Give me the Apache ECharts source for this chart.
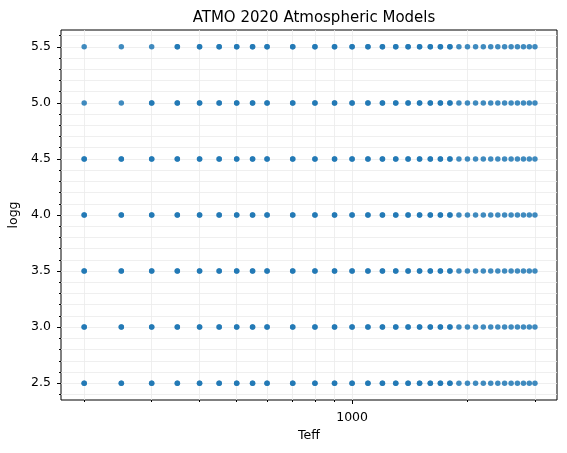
<!DOCTYPE html>
<html>
<head>
<meta charset="utf-8">
<script src="https://cdn.jsdelivr.net/npm/echarts@6/dist/echarts.min.js"></script>
<style>
  html, body { margin: 0; padding: 0; background: #fff; }
  #chart { width: 567px; height: 453px; }
</style>
</head>
<body>
<div id="chart"></div>
<script>
// model grid (ATMO 2020): every Teff at every logg
const teffGrid = [200, 250, 300, 350, 400, 450, 500, 550, 600, 700, 800, 900,
  1000, 1100, 1200, 1300, 1400, 1500, 1600, 1700, 1800, 1900, 2000, 2100,
  2200, 2300, 2400, 2500, 2600, 2700, 2800, 2900, 3000]
const loggGrid = [2.5, 3.0, 3.5, 4.0, 4.5, 5.0, 5.5]

// points covered by the second (non-equilibrium) model set, drawn on top
const teffNeq = [200, 250, 300, 350, 400, 450, 500, 550, 600, 700, 800, 900,
  1000, 1100, 1200, 1300, 1400, 1500, 1600, 1700, 1800]
const neqMissing = [[200, 5.0], [250, 5.0], [200, 5.5], [250, 5.5], [300, 5.5]]

// axis ticks
const xMajorTicks = [1000]
const xMinorTicks = [200, 300, 400, 500, 600, 700, 800, 900, 1000, 2000, 3000]
const yMajorTicks = [2.5, 3.0, 3.5, 4.0, 4.5, 5.0, 5.5]
const yMinorTicks = [2.4, 2.5, 2.6, 2.7, 2.8, 2.9, 3.0, 3.1, 3.2, 3.3, 3.4, 3.5,
  3.6, 3.7, 3.8, 3.9, 4.0, 4.1, 4.2, 4.3, 4.4, 4.5, 4.6, 4.7, 4.8, 4.9, 5.0,
  5.1, 5.2, 5.3, 5.4, 5.5, 5.6]

const xMin = 174
const xMax = 3425
const yMin = 2.35
const yMax = 5.65

const gridPoints = []
loggGrid.forEach((g) => {
  teffGrid.forEach((t) => gridPoints.push([t, g]))
})

const neqPoints = []
loggGrid.forEach((g) => {
  teffNeq.forEach((t) => {
    const skip = neqMissing.some((m) => m[0] === t && m[1] === g)
    if (!skip) neqPoints.push([t, g])
  })
})

const font = 'DejaVu Sans'
const blue = '#1f77b4'

const xBase = {
  type: 'log',
  logBase: 10,
  min: xMin,
  max: xMax,
  axisLine: { show: false },
}
const yBase = {
  type: 'value',
  min: yMin,
  max: yMax,
  axisLine: { show: false },
}

const option = {
  animation: false,
  backgroundColor: '#fff',
  title: {
    text: 'ATMO 2020 Atmospheric Models',
    left: 309,
    textAlign: 'center',
    top: 6,
    textStyle: { fontFamily: font, fontSize: 15, fontWeight: 'normal', color: '#000' },
  },
  grid: {
    left: 61,
    right: 10,
    top: 30,
    bottom: 53,
    outerBoundsMode: 'none',
    containLabel: false,
    show: true,
    borderColor: '#000',
    borderWidth: 1,
    backgroundColor: 'transparent',
  },
  xAxis: [
    {
      ...xBase,
      name: 'Teff',
      nameLocation: 'middle',
      nameGap: 29,
      nameTextStyle: { fontFamily: font, fontSize: 12.5, color: '#000' },
      axisTick: { show: true, length: 4, customValues: xMajorTicks, lineStyle: { color: '#000' } },
      axisLabel: {
        show: true,
        customValues: xMajorTicks,
        margin: 11,
        fontFamily: font,
        fontSize: 12.5,
        color: '#000',
        formatter: (v) => String(Math.round(v)),
      },
      splitLine: { show: false },
    },
    {
      ...xBase,
      position: 'bottom',
      axisTick: { show: true, length: 2, customValues: xMinorTicks, lineStyle: { color: '#000' } },
      axisLabel: { show: false },
      splitLine: { show: true, lineStyle: { color: '#ebebeb', width: 0.8 } },
    },
  ],
  yAxis: [
    {
      ...yBase,
      name: 'logg',
      nameLocation: 'middle',
      nameGap: 38,
      nameTextStyle: { fontFamily: font, fontSize: 12.5, color: '#000' },
      axisTick: { show: true, length: 4, customValues: yMajorTicks, lineStyle: { color: '#000' } },
      axisLabel: {
        show: true,
        customValues: yMajorTicks,
        margin: 10,
        fontFamily: font,
        fontSize: 12.5,
        color: '#000',
        formatter: (v) => v.toFixed(1),
      },
      splitLine: { show: false },
    },
    {
      ...yBase,
      position: 'left',
      axisTick: { show: true, length: 2, customValues: yMinorTicks, lineStyle: { color: '#000' } },
      axisLabel: { show: false },
      splitLine: { show: true, lineStyle: { color: '#ebebeb', width: 0.8 } },
    },
  ],
  series: [
    {
      type: 'scatter',
      xAxisIndex: 0,
      yAxisIndex: 0,
      data: gridPoints,
      symbolSize: 5.5,
      itemStyle: { color: blue, opacity: 0.85 },
    },
    {
      type: 'scatter',
      xAxisIndex: 0,
      yAxisIndex: 0,
      data: neqPoints,
      symbolSize: 5.5,
      itemStyle: { color: blue, opacity: 0.85 },
    },
  ],
}

const chart = echarts.init(document.getElementById('chart'), null, { renderer: 'canvas' })
chart.setOption(option)
</script>
</body>
</html>
